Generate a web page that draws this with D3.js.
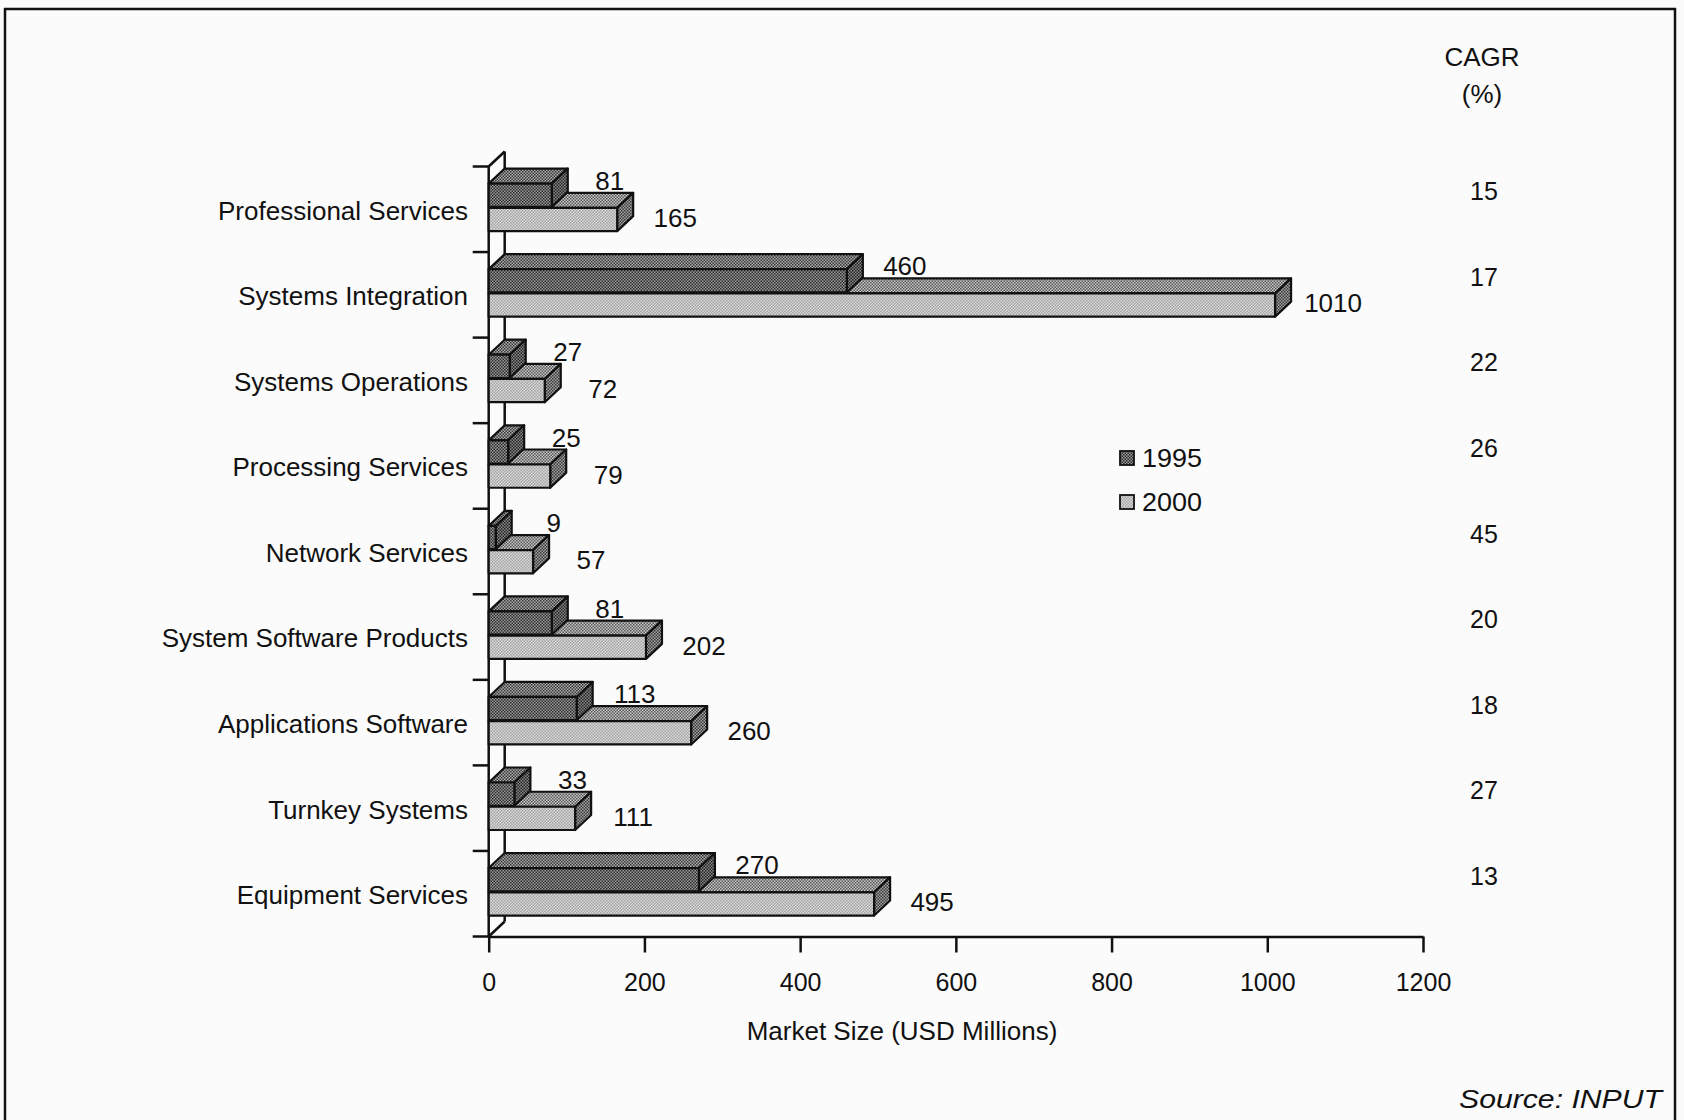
<!DOCTYPE html>
<html>
<head>
<meta charset="utf-8">
<script src="https://cdn.jsdelivr.net/npm/d3@7"></script>
<style>
  html, body { margin: 0; padding: 0; background: #fafafa; }
  svg { display: block; }
  text { font-family: "Liberation Sans", Arial, Helvetica, sans-serif; fill: #111; }
</style>
</head>
<body>
<svg id="chart" width="1684" height="1120"></svg>
<script>
// Market size by service segment, 1995 vs 2000 (USD millions), with CAGR
const categories = [
  "Professional Services",
  "Systems Integration",
  "Systems Operations",
  "Processing Services",
  "Network Services",
  "System Software Products",
  "Applications Software",
  "Turnkey Systems",
  "Equipment Services"
];
const seriesNames = ["1995", "2000"];
const values1995 = [81, 460, 27, 25, 9, 81, 113, 33, 270];
const values2000 = [165, 1010, 72, 79, 57, 202, 260, 111, 495];
const cagr = [15, 17, 22, 26, 45, 20, 18, 27, 13];
const xTicks = [0, 200, 400, 600, 800, 1000, 1200];

const svg = d3.select("#chart");
const W = 1684, H = 1120;

// frame
svg.append("rect")
  .attr("x", 5).attr("y", 9).attr("width", 1670).attr("height", H)
  .attr("fill", "#fbfbfb").attr("stroke", "#111").attr("stroke-width", 2.5);

// dithered fills for the bar faces
const defs = svg.append("defs");
function checker(id, a, b, cell) {
  const p = defs.append("pattern").attr("id", id)
    .attr("patternUnits", "userSpaceOnUse")
    .attr("width", cell * 2).attr("height", cell * 2);
  p.append("rect").attr("width", cell * 2).attr("height", cell * 2).attr("fill", b);
  p.append("rect").attr("width", cell).attr("height", cell).attr("fill", a);
  p.append("rect").attr("x", cell).attr("y", cell).attr("width", cell).attr("height", cell).attr("fill", a);
}
checker("f95front", "#2a2a2a", "#9a9a9a", 1.5);
checker("f95top", "#363636", "#acacac", 1.5);
checker("f95side", "#222", "#888", 1.5);
checker("f00front", "#a2a2a2", "#dadada", 1.5);
checker("f00top", "#555", "#c8c8c8", 1.5);
checker("f00side", "#383838", "#a2a2a2", 1.5);

const faces = {
  "1995": { front: "url(#f95front)", top: "url(#f95top)", side: "url(#f95side)" },
  "2000": { front: "url(#f00front)", top: "url(#f00top)", side: "url(#f00side)" }
};

// scales
const x = d3.scaleLinear().domain([0, 1200]).range([488.7, 1423]);
const y = d3.scaleBand().domain(categories).range([166.5, 936.5]);
const bw = y.bandwidth();
const inner = d3.scaleBand().domain(seriesNames)
  .range([0.2 * bw, 0.755 * bw]).paddingInner(0.04);

const DX = 16, DY = 15;   // depth offset of the 3D bars
const x0 = x(0), yTop = y.range()[0], yBot = y.range()[1];

// 3D wall of the category axis
const axisG = svg.append("g").attr("stroke", "#111").attr("stroke-width", 2.5).attr("fill", "none");
axisG.append("line").attr("x1", x0 + DX).attr("x2", x0 + DX).attr("y1", yTop - DY).attr("y2", yBot - DY);
axisG.append("line").attr("x1", x0).attr("x2", x0 + DX).attr("y1", yTop).attr("y2", yTop - DY);
axisG.append("line").attr("x1", x0).attr("x2", x0 + DX).attr("y1", yBot).attr("y2", yBot - DY);

// bars
const data = categories.map((c, i) => ({
  cat: c,
  bars: [
    { s: "1995", v: values1995[i] },
    { s: "2000", v: values2000[i] }
  ]
}));

const barG = svg.append("g");
data.forEach(d => {
  // lower series first so the upper bar's front face covers its top face
  [d.bars[1], d.bars[0]].forEach(b => {
    const yt = y(d.cat) + inner(b.s);
    const yb = yt + inner.bandwidth();
    const xe = x(b.v);
    const g = barG.append("g").attr("stroke", "#111").attr("stroke-width", 2.2).attr("stroke-linejoin", "round");
    g.append("path")
      .attr("d", `M${x0},${yt}L${x0 + DX},${yt - DY}L${xe + DX},${yt - DY}L${xe},${yt}Z`)
      .attr("fill", faces[b.s].top);
    g.append("path")
      .attr("d", `M${xe},${yt}L${xe + DX},${yt - DY}L${xe + DX},${yb - DY}L${xe},${yb}Z`)
      .attr("fill", faces[b.s].side);
    g.append("rect")
      .attr("x", x0).attr("y", yt).attr("width", xe - x0).attr("height", yb - yt)
      .attr("fill", faces[b.s].front);
  });
});

// value labels
data.forEach(d => {
  d.bars.forEach(b => {
    const ly = b.s === "1995" ? y(d.cat) + 14 : y(d.cat) + 51;
    svg.append("text")
      .attr("x", x(b.v) + DX + 42).attr("y", ly).attr("dy", "0.36em")
      .attr("text-anchor", "middle").attr("font-size", 26)
      .text(b.v);
  });
});

// category axis: front line, boundary ticks, labels
axisG.append("line").attr("x1", x0).attr("x2", x0).attr("y1", yTop).attr("y2", yBot);
const bounds = categories.map(c => y(c)).concat([yBot]);
bounds.forEach(v => {
  axisG.append("line").attr("x1", x0 - 16).attr("x2", x0).attr("y1", v).attr("y2", v);
});
svg.append("g").selectAll("text").data(categories).join("text")
  .attr("x", 468).attr("y", c => y(c) + bw / 2 + 1).attr("dy", "0.36em")
  .attr("text-anchor", "end").attr("font-size", 26)
  .text(c => c);

// value axis
const xAxis = svg.append("g").attr("transform", `translate(0,${yBot})`)
  .call(d3.axisBottom(x).tickValues(xTicks).tickSize(16).tickSizeOuter(0).tickFormat(d3.format("d")));
xAxis.select(".domain").attr("stroke", "#111").attr("stroke-width", 2.5);
xAxis.selectAll(".tick line").attr("stroke", "#111").attr("stroke-width", 2.5);
xAxis.selectAll(".tick text")
  .attr("y", 45).attr("dy", "0.36em")
  .attr("font-size", 25).attr("font-family", "Liberation Sans, Arial, sans-serif").attr("fill", "#111");

svg.append("text").attr("x", 902).attr("y", 1031).attr("dy", "0.36em")
  .attr("text-anchor", "middle").attr("font-size", 26)
  .text("Market Size (USD Millions)");

// CAGR column
svg.append("text").attr("x", 1482).attr("y", 57).attr("dy", "0.36em")
  .attr("text-anchor", "middle").attr("font-size", 26).text("CAGR");
svg.append("text").attr("x", 1482).attr("y", 94).attr("dy", "0.36em")
  .attr("text-anchor", "middle").attr("font-size", 26).text("(%)");
svg.append("g").selectAll("text").data(categories).join("text")
  .attr("x", 1484).attr("y", c => y(c) + bw / 2 - 18).attr("dy", "0.36em")
  .attr("text-anchor", "middle").attr("font-size", 25)
  .text((c, i) => cagr[i]);

// legend
const legend = svg.append("g").attr("transform", "translate(1120,451)");
seriesNames.forEach((s, i) => {
  const g = legend.append("g").attr("transform", `translate(0,${i * 44})`);
  g.append("rect").attr("width", 14).attr("height", 14)
    .attr("fill", faces[s].front).attr("stroke", "#111").attr("stroke-width", 1.8);
  g.append("text").attr("x", 22).attr("y", 7).attr("dy", "0.36em")
    .attr("font-size", 25).attr("textLength", 60).attr("lengthAdjust", "spacingAndGlyphs")
    .text(s);
});

// source note
svg.append("text").attr("x", 1662).attr("y", 1108)
  .attr("text-anchor", "end").attr("font-size", 25).attr("font-style", "italic")
  .attr("textLength", 203).attr("lengthAdjust", "spacingAndGlyphs")
  .text("Source: INPUT");
</script>
</body>
</html>
